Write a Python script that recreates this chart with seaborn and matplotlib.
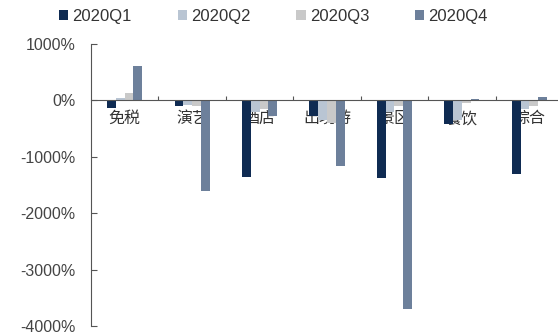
import matplotlib
matplotlib.use("Agg")
import matplotlib.pyplot as plt
import matplotlib.ticker as mticker
from matplotlib.patches import Patch
import numpy as np
import pandas as pd
import seaborn as sns

# 各行业季度同比增速（%）
categories = ["免税", "演艺", "酒店", "出境游", "景区", "餐饮", "综合"]
quarters = ["2020Q1", "2020Q2", "2020Q3", "2020Q4"]
q1 = [-130, -100, -1350, -270, -1380, -420, -1300]
q2 = [40, -80, -200, -350, -200, -350, -150]
q3 = [140, -100, -150, -400, -100, -50, -100]
q4 = [610, -1610, -280, -1170, -3690, 30, 60]
yticks = [1000, 0, -1000, -2000, -3000, -4000]

colors = ["#0f2b52", "#b9c5d3", "#c9c9c9", "#6d809b"]

df = pd.DataFrame({
    "行业": np.repeat(categories, len(quarters)),
    "季度": quarters * len(categories),
    "增速": np.column_stack([q1, q2, q3, q4]).ravel(),
})

sns.set_theme(style="white")
plt.rcParams["font.family"] = ["Noto Sans CJK SC", "DejaVu Sans"]
plt.rcParams["axes.unicode_minus"] = False

fig = plt.figure(figsize=(5.58, 3.34), dpi=100)
ax = fig.add_axes([0.163, 0.024, 0.846, 0.844])

sns.barplot(data=df, x="行业", y="增速", hue="季度", order=categories,
            hue_order=quarters, palette=colors, width=0.52, dodge=True,
            saturation=1, errorbar=None, ax=ax, legend=False, zorder=3,
            linewidth=0)

ax.set_ylim(-4000, 1000)
ax.set_xlim(-0.5, len(categories) - 0.5)
ax.set_yticks(yticks)
ax.yaxis.set_major_formatter(mticker.FuncFormatter(lambda v, p: f"{int(v)}%"))
ax.tick_params(axis="y", direction="in", length=4, width=0.8, color="#555555",
               labelsize=11.5, labelcolor="#444444", left=True, pad=11)
for lbl in ax.get_yticklabels():
    lbl.set_family(["Liberation Sans", "DejaVu Sans"])

# x 轴放在 0 线上，类目标签紧贴其下
ax.spines["bottom"].set_position(("data", 0))
ax.spines["bottom"].set_color("#555555")
ax.spines["bottom"].set_linewidth(0.8)
ax.spines["bottom"].set_zorder(4)
ax.spines["left"].set_color("#555555")
ax.spines["left"].set_linewidth(0.8)
ax.spines["top"].set_visible(False)
ax.spines["right"].set_visible(False)
ax.set_xticks(range(len(categories)))
ax.set_xticklabels(categories)
ax.set_xticks(np.arange(0.5, len(categories) - 0.5, 1), minor=True)
ax.tick_params(axis="x", which="major", length=0, labelsize=11.5,
               labelcolor="#333333", pad=7)
ax.tick_params(axis="x", which="minor", direction="in", length=3,
               width=0.8, color="#555555", bottom=True)
ax.set_xlabel("")
ax.set_ylabel("")

handles = [Patch(facecolor=c, edgecolor="none") for c in colors]
leg = fig.legend(handles, quarters, loc="center", ncol=4,
                 bbox_to_anchor=(0.49, 0.952), frameon=False,
                 handlelength=0.55, handleheight=0.55, handletextpad=0.25,
                 columnspacing=2.75, prop={"family": ["Liberation Sans", "DejaVu Sans"], "size": 12})
for t in leg.get_texts():
    t.set_color("#333333")

fig.savefig("out.png", dpi=100)
